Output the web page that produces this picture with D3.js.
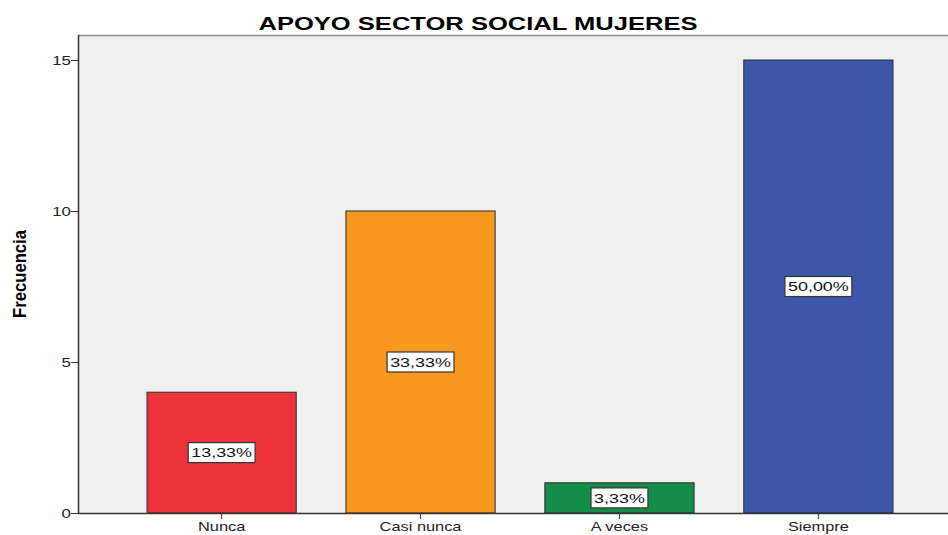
<!DOCTYPE html>
<html>
<head>
<meta charset="utf-8">
<script src="https://cdn.jsdelivr.net/npm/d3@7"></script>
<style>
  body { margin: 0; background: #fff; }
  text { font-family: Arial, "Liberation Sans", sans-serif; }
</style>
</head>
<body>
<div class="chart"></div>
<script>
const categories = ["Nunca", "Casi nunca", "A veces", "Siempre"];
const values = [4, 10, 1, 15];
const percents = ["13,33%", "33,33%", "3,33%", "50,00%"];
const colors = ["#ef333b", "#f7991f", "#138d47", "#3d57a8"];
const yTicks = [0, 5, 10, 15];

const width = 948;
const height = 535;
const plotLeft = 78, plotTop = 35, plotBottom = 513;
// the source picture is stretched sideways, so text is widened too
const stretch = 1.3;

const svg = d3.select('.chart')
    .append('svg')
    .attr('width', width)
    .attr('height', height);

const x = d3.scaleBand()
    .domain(categories)
    .range([plotLeft, 962])
    .paddingInner(0.25)
    .paddingOuter(0.347);

const y = d3.scaleLinear()
    .domain([0, 15])
    .range([plotBottom, 60]);

// plot background
svg.append('rect')
    .attr('x', plotLeft)
    .attr('y', plotTop)
    .attr('width', width - plotLeft)
    .attr('height', plotBottom - plotTop)
    .attr('fill', '#f0f0f0');
svg.append('line')
    .attr('x1', plotLeft).attr('x2', width)
    .attr('y1', plotTop + 0.5).attr('y2', plotTop + 0.5)
    .attr('stroke', '#8a8a8a')
    .attr('stroke-width', 1.5);

svg.append('text')
    .attr('transform', 'translate(478,30) scale(1.42,1)')
    .attr('text-anchor', 'middle')
    .attr('font-size', 18)
    .attr('font-weight', 'bold')
    .text('APOYO SECTOR SOCIAL MUJERES');

// bars
svg.selectAll('rect.bar')
    .data(categories)
    .enter()
    .append('rect')
    .attr('class', 'bar')
    .attr('x', d => x(d))
    .attr('y', (d, i) => y(values[i]))
    .attr('width', x.bandwidth())
    .attr('height', (d, i) => y(0) - y(values[i]))
    .attr('fill', (d, i) => colors[i])
    .attr('stroke', '#2a2a2a')
    .attr('stroke-width', 1);

// percentage labels
const lab = svg.selectAll('g.lab')
    .data(categories)
    .enter()
    .append('g')
    .attr('class', 'lab')
    .attr('transform', (d, i) => `translate(${x(d) + x.bandwidth() / 2},${y(values[i] / 2)})`);
lab.append('text')
    .attr('text-anchor', 'middle')
    .attr('dy', '0.36em')
    .attr('font-size', 13)
    .attr('fill', '#111')
    .attr('transform', 'scale(1.38,1)')
    .text((d, i) => percents[i]);
lab.each(function() {
    const g = d3.select(this);
    const bb = g.select('text').node().getBBox();
    const w = bb.width * 1.38 + 6;
    g.insert('rect', 'text')
        .attr('x', -w / 2)
        .attr('y', -10)
        .attr('width', w)
        .attr('height', 20)
        .attr('fill', '#fff')
        .attr('stroke', '#333')
        .attr('stroke-width', 1.2);
});

// axes
const yAxis = svg.append('g')
    .attr('transform', `translate(${plotLeft},0)`)
    .call(d3.axisLeft(y).tickValues(yTicks).tickSize(7).tickPadding(0));
yAxis.select('.domain').attr('d', `M0.5,${plotTop}V${plotBottom}`).attr('stroke', '#333').attr('stroke-width', 1.5);
yAxis.selectAll('line').attr('stroke', '#333');
yAxis.selectAll('text')
    .attr('x', -7 / stretch)
    .attr('transform', `scale(${stretch},1)`)
    .attr('font-size', 13).attr('fill', '#222')
    .attr('font-family', 'Arial, "Liberation Sans", sans-serif');

const xAxis = svg.append('g')
    .attr('transform', `translate(0,${plotBottom})`)
    .call(d3.axisBottom(x).tickSize(6).tickPadding(3));
xAxis.select('.domain').attr('d', `M${plotLeft},0.5H${width}`).attr('stroke', '#333').attr('stroke-width', 1.5);
xAxis.selectAll('line').attr('stroke', '#333');
xAxis.selectAll('text')
    .attr('transform', 'scale(1.26,1)')
    .attr('font-size', 13).attr('fill', '#222')
    .attr('font-family', 'Arial, "Liberation Sans", sans-serif');

svg.append('text')
    .attr('transform', 'translate(26,274) scale(1.35,1) rotate(-90)')
    .attr('text-anchor', 'middle')
    .attr('font-size', 14)
    .attr('font-weight', 'bold')
    .attr('textLength', 88)
    .attr('lengthAdjust', 'spacingAndGlyphs')
    .text('Frecuencia');
</script>
</body>
</html>
